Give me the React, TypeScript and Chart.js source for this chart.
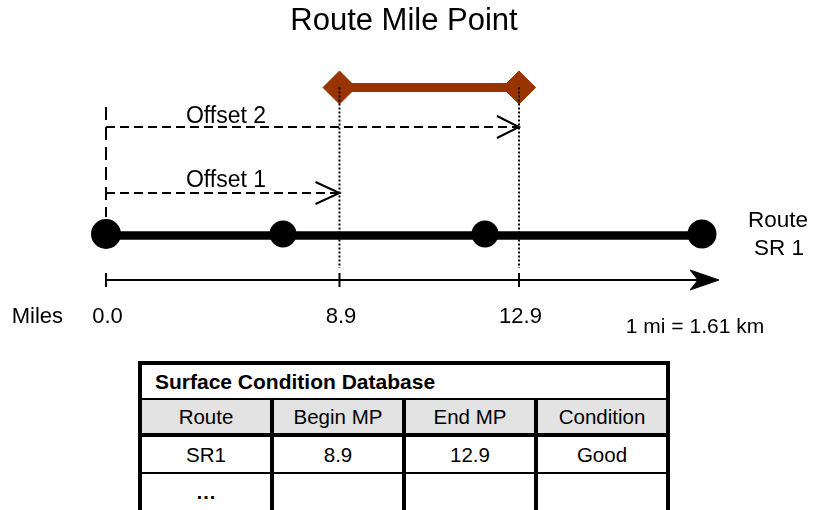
import React, { useEffect, useRef } from 'react';
import { Chart, registerables } from 'chart.js';

Chart.register(...registerables);

// ---------- data ----------
const chartTitle = 'Route Mile Point';
const routeLabelLines = ['Route', 'SR 1'];
const axisName = 'Miles';
const mileValues = [0.0, 8.9, 12.9];
const mileLabels = ['0.0', '8.9', '12.9'];
const segmentMiles = [8.9, 12.9]; // begin MP, end MP of the surveyed segment
const offsetLabels = ['Offset 1', 'Offset 2'];
const offsetEndMiles = [8.9, 12.9];
const unitNote = '1 mi = 1.61 km';
const tableTitle = 'Surface Condition Database';
const tableColumns = ['Route', 'Begin MP', 'End MP', 'Condition'];
const tableRows = [
  ['SR1', '8.9', '12.9', 'Good'],
  ['\u2026', '', '', ''],
];

// ---------- schematic layout (diagram units) ----------
const FONT = "'Liberation Sans', Arial, Helvetica, sans-serif";
const BROWN = '#993300';
const anchorMiles = [0.0, 8.9, 12.9];
const anchorX = [106, 339.5, 519];
const routeNodeX = [106, 283, 485, 702];
const nodeRadius = [15, 13.5, 13.5, 14.5];
const axisEndX = 719;
const LV = {
  segment: 87.5,
  offsets: [193, 127],
  originTop: 107,
  originBottom: 217,
  node: 234,
  route: 235.5,
  guideEnd: 268,
  axis: 280,
};

function milesToX(m: number): number {
  for (let i = 0; i < anchorMiles.length - 1; i++) {
    if (m <= anchorMiles[i + 1]) {
      const t = (m - anchorMiles[i]) / (anchorMiles[i + 1] - anchorMiles[i]);
      return anchorX[i] + t * (anchorX[i + 1] - anchorX[i]);
    }
  }
  return anchorX[anchorX.length - 1];
}

type TextItem = { text: string; x: number; y: number; size: number; align: CanvasTextAlign; bold?: boolean };

function buildTexts(): TextItem[] {
  const t: TextItem[] = [];
  offsetLabels.forEach((lab, i) => {
    t.push({ text: lab, x: 226, y: LV.offsets[i] - (i === 0 ? 6 : 4), size: 23, align: 'center' });
  });
  t.push({ text: routeLabelLines[0], x: 778, y: 226.5, size: 22.5, align: 'center' });
  t.push({ text: routeLabelLines[1], x: 779, y: 254.5, size: 22.5, align: 'center' });
  t.push({ text: axisName, x: 63, y: 323, size: 22, align: 'right' });
  mileValues.forEach((m, i) => {
    t.push({ text: mileLabels[i], x: milesToX(m) + 1.5, y: 323, size: 22, align: 'center' });
  });
  t.push({ text: unitNote, x: 695, y: 333, size: 21, align: 'center' });
  return t;
}

const textPlugin = {
  id: 'diagramText',
  afterDatasetsDraw(chart: any) {
    const { ctx } = chart;
    const xs = chart.scales.x;
    const ys = chart.scales.y;
    ctx.save();
    ctx.fillStyle = '#000';
    ctx.textBaseline = 'alphabetic';
    for (const it of buildTexts()) {
      ctx.font = `${it.bold ? 'bold ' : ''}${it.size}px ${FONT}`;
      ctx.textAlign = it.align;
      ctx.fillText(it.text, xs.getPixelForValue(it.x), ys.getPixelForValue(it.y));
    }
    ctx.restore();
  },
};

function buildDatasets(): any[] {
  const ds: any[] = [];
  const base = { showLine: true, pointRadius: 0, borderColor: '#000', borderWidth: 2, borderJoinStyle: 'miter' };
  const x0 = milesToX(mileValues[0]);

  // dotted guide lines at begin / end MP (drawn on top)
  segmentMiles.forEach((m) => {
    const x = milesToX(m);
    ds.push({ ...base, data: [{ x, y: LV.segment }, { x, y: LV.guideEnd }], borderDash: [2, 2] });
  });

  // surveyed segment with diamond ends
  ds.push({
    ...base,
    data: segmentMiles.map((m) => ({ x: milesToX(m), y: LV.segment })),
    borderColor: BROWN,
    borderWidth: 9,
    pointStyle: 'rectRot',
    pointRadius: 16.5,
    pointBackgroundColor: BROWN,
    pointBorderColor: BROWN,
    pointBorderWidth: 1,
  });

  // route nodes
  ds.push({
    showLine: false,
    data: routeNodeX.map((x) => ({ x, y: LV.node })),
    pointRadius: nodeRadius,
    pointBackgroundColor: '#000',
    pointBorderColor: '#000',
    pointBorderWidth: 0,
  });

  // route line
  ds.push({
    ...base,
    data: [{ x: routeNodeX[0], y: LV.route }, { x: routeNodeX[routeNodeX.length - 1], y: LV.route }],
    borderWidth: 8.5,
  });

  // offsets: dashed line + open arrow head
  offsetEndMiles.forEach((m, i) => {
    const y = LV.offsets[i];
    const xe = milesToX(m);
    const len = i === 0 ? 24 : 22;
    ds.push({ ...base, data: [{ x: x0, y }, { x: xe, y }], borderDash: [9, 5] });
    ds.push({ ...base, data: [{ x: xe - len, y: y - 11 }, { x: xe, y }, { x: xe - len, y: y + 11 }] });
  });

  // origin vertical dashed line
  ds.push({ ...base, data: [{ x: x0, y: LV.originTop }, { x: x0, y: LV.originBottom }], borderDash: [13, 7] });

  // mile ticks
  ds.push({
    showLine: false,
    data: mileValues.map((m) => ({ x: milesToX(m), y: LV.axis })),
    pointStyle: 'line',
    pointRotation: 90,
    pointRadius: 7,
    pointBorderColor: '#000',
    pointBorderWidth: 2,
  });

  // axis line
  ds.push({ ...base, data: [{ x: x0, y: LV.axis }, { x: axisEndX - 22, y: LV.axis }] });

  // axis arrow head
  ds.push({
    ...base,
    borderWidth: 1,
    fill: 'shape',
    backgroundColor: '#000',
    data: [
      { x: axisEndX - 29, y: LV.axis - 10 },
      { x: axisEndX, y: LV.axis },
      { x: axisEndX - 29, y: LV.axis + 10 },
      { x: axisEndX - 21, y: LV.axis },
      { x: axisEndX - 29, y: LV.axis - 10 },
    ],
  });

  return ds;
}

function DataTable() {
  const cellFont: React.CSSProperties = {
    fontFamily: FONT,
    fontSize: 20.5,
    color: '#000',
    display: 'flex',
    alignItems: 'center',
    justifyContent: 'center',
  };
  const grid: React.CSSProperties = {
    display: 'grid',
    gridTemplateColumns: 'repeat(4, 128px)',
    columnGap: 4,
  };
  return (
    <div
      style={{
        position: 'absolute',
        left: 138,
        top: 361,
        width: 532,
        boxSizing: 'border-box',
        background: '#000',
        padding: 4,
      }}
    >
      <div
        style={{
          height: 33,
          background: '#fff',
          fontFamily: FONT,
          fontWeight: 'bold',
          fontSize: 21,
          display: 'flex',
          alignItems: 'center',
          paddingLeft: 13,
        }}
      >
        {tableTitle}
      </div>
      <div style={{ ...grid, marginTop: 2 }}>
        {tableColumns.map((c) => (
          <div key={c} style={{ ...cellFont, height: 33, background: '#e3e3e3' }}>
            {c}
          </div>
        ))}
      </div>
      {tableRows.map((row, ri) => (
        <div key={ri} style={{ ...grid, marginTop: ri === 0 ? 4 : 2 }}>
          {row.map((v, ci) => (
            <div
              key={ci}
              style={{
                ...cellFont,
                height: ri === 0 ? 35 : 36,
                background: '#fff',
                fontWeight: v === '\u2026' ? 'bold' : 'normal',
              }}
            >
              {v}
            </div>
          ))}
        </div>
      ))}
    </div>
  );
}

export default function App() {
  const canvasRef = useRef<HTMLCanvasElement | null>(null);

  useEffect(() => {
    if (!canvasRef.current) return;
    const chart = new Chart(canvasRef.current, {
      type: 'scatter',
      data: { datasets: buildDatasets() },
      options: {
        responsive: false,
        animation: false,
        events: [],
        layout: { autoPadding: false, padding: { left: 0, right: 9, top: 0, bottom: 0 } },
        plugins: {
          legend: { display: false },
          tooltip: { enabled: false },
          title: {
            display: true,
            text: chartTitle,
            color: '#000',
            font: { family: FONT, size: 31, weight: 'normal' },
            padding: { top: 2.4, bottom: 0 },
          },
        },
        scales: {
          x: { type: 'linear', display: false, min: 0, max: 808 },
          y: { type: 'linear', display: false, min: 39.6, max: 510, reverse: true },
        },
      } as any,
      plugins: [textPlugin],
    });
    return () => chart.destroy();
  }, []);

  return (
    <div
      style={{
        position: 'absolute',
        left: 0,
        top: 0,
        width: 817,
        height: 510,
        overflow: 'hidden',
        background: '#fff',
      }}
    >
      <canvas ref={canvasRef} width={817} height={510} style={{ display: 'block' }} />
      <DataTable />
    </div>
  );
}
